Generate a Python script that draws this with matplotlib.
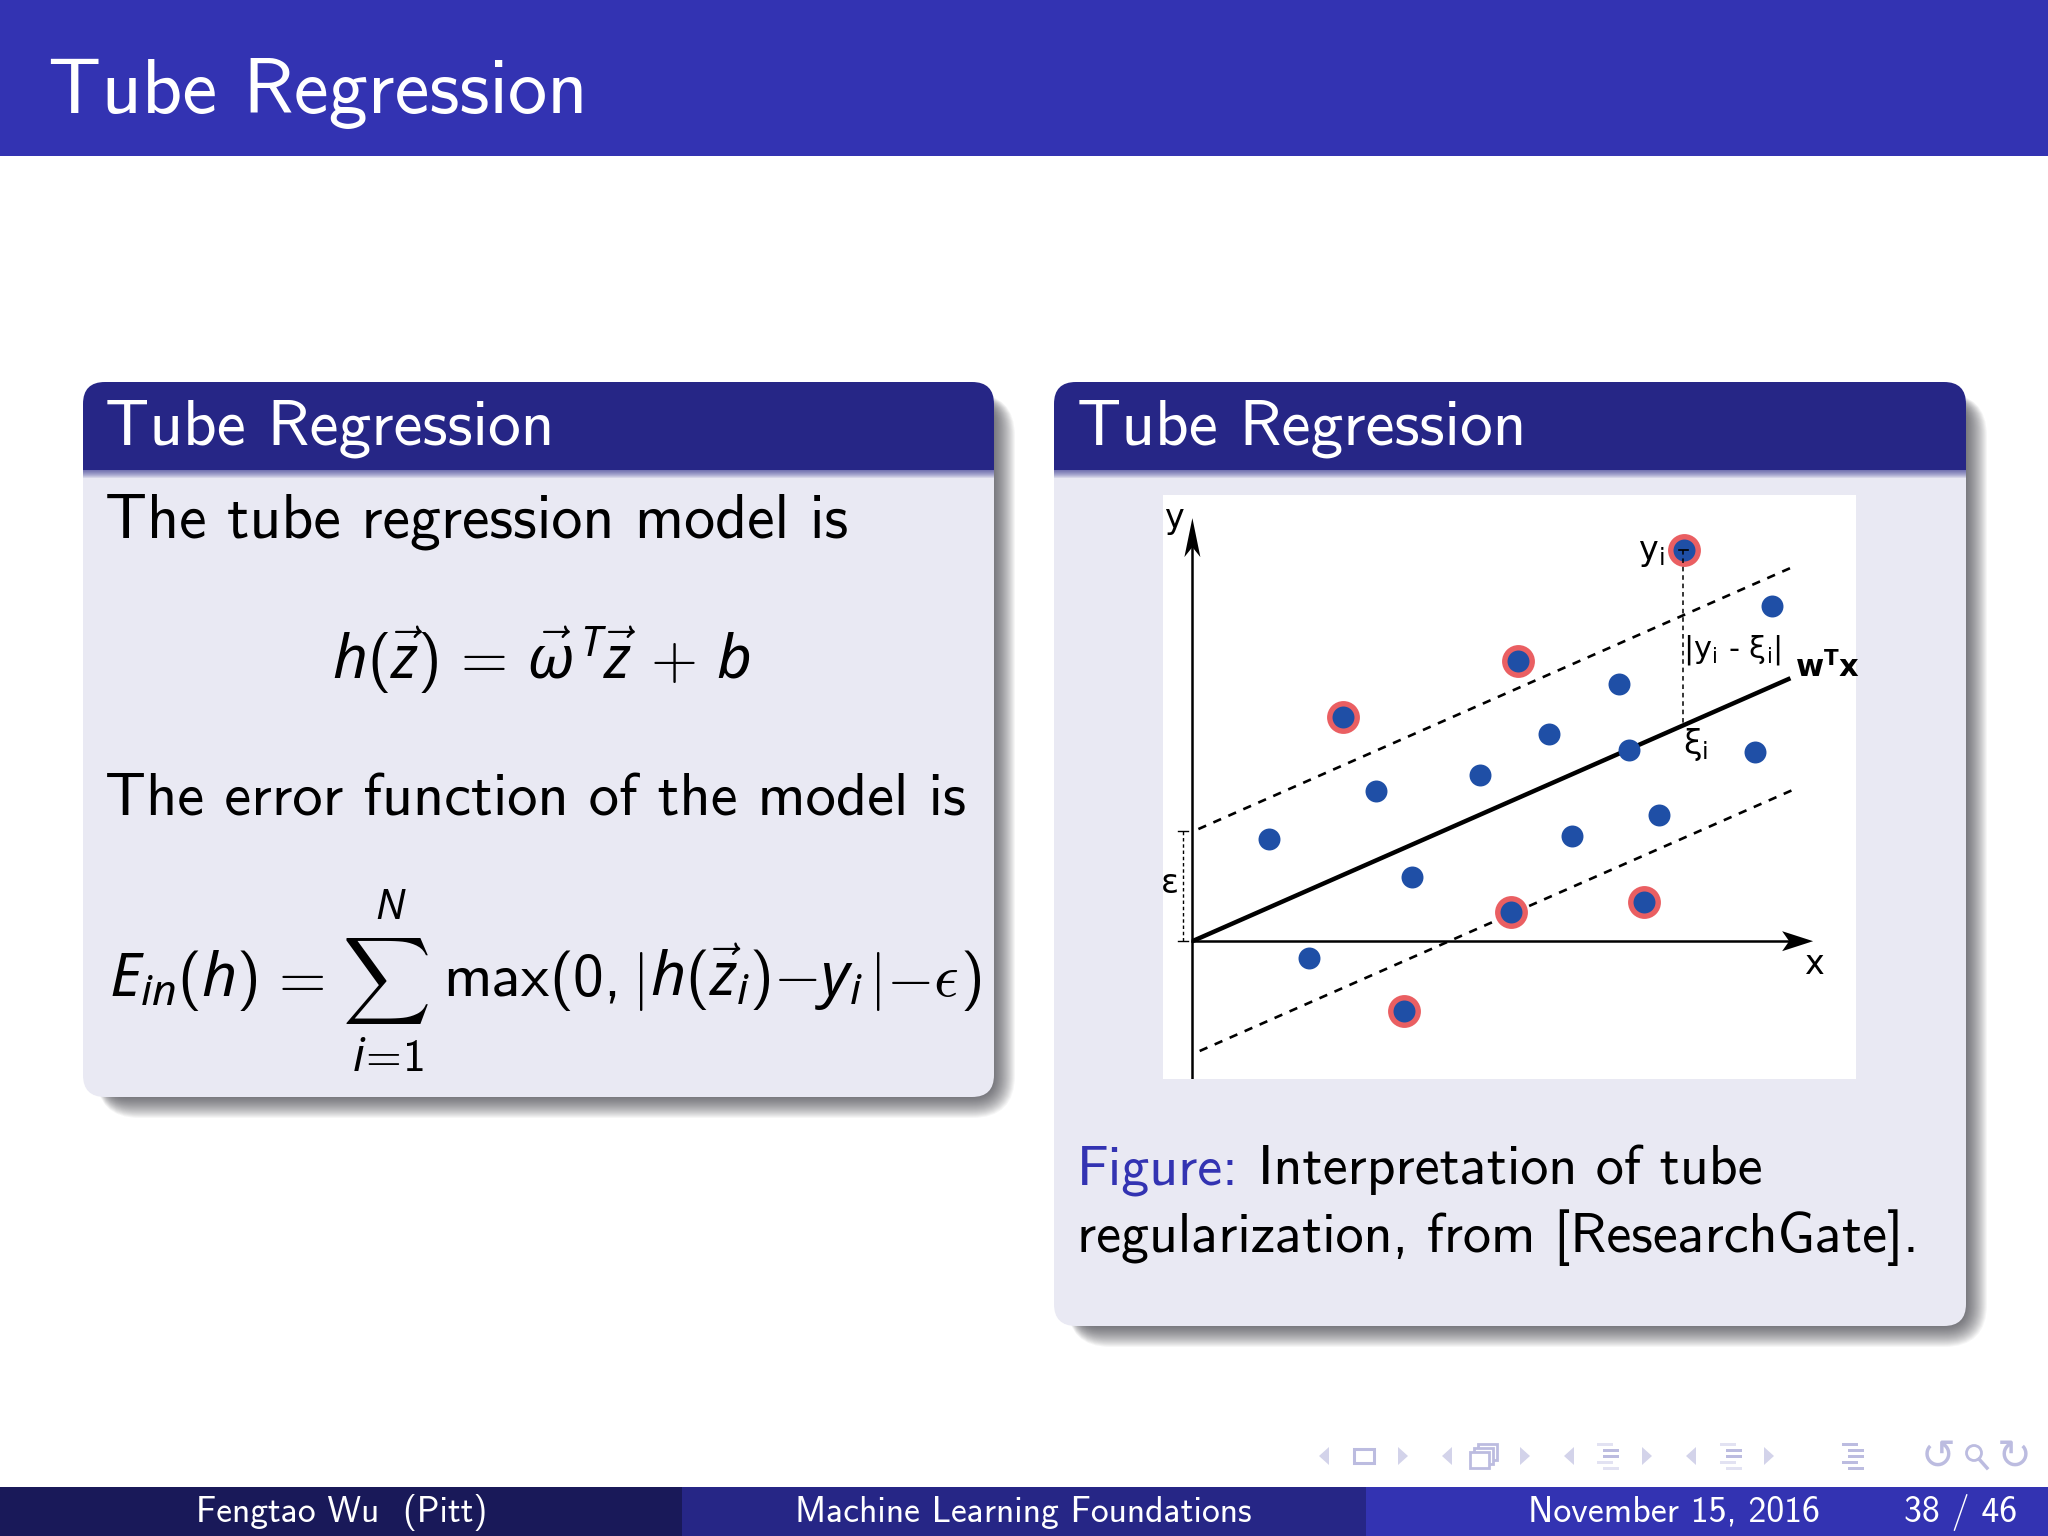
#
# Beamer slide "Tube Regression" with the epsilon-tube figure
#
import numpy as np
import matplotlib
matplotlib.use('Agg')
import matplotlib.pyplot as plt
from matplotlib.patches import Rectangle, FancyBboxPatch, Polygon, Circle

plt.rcParams['mathtext.fontset'] = 'custom'
plt.rcParams['mathtext.rm'] = 'cmss10'
plt.rcParams['mathtext.it'] = 'Noto Sans:italic:light'
plt.rcParams['mathtext.bf'] = 'DejaVu Sans:bold'
plt.rcParams['mathtext.fallback'] = 'cm'
plt.rcParams['axes.unicode_minus'] = False

W, H = 2048, 1536
SANS = 'cmss10'

#############################################################
# colours
HEAD = '#3333b2'
BLOCK_HEAD = '#262686'
FOOT_DARK = '#191959'
BODY = '#e9e9f3'
NAV = '#d3d3ea'
NAV_DARK = '#bcbce0'
DOT = '#1f4fa6'
RING = '#ea5f62'

# points of the figure, pixels from where the axes cross
inside_x = [76.7, 184.1, 287.9, 356.7, 427.0, 436.6, 562.9, 579.9, 219.9, 380.2, 466.5, 116.6]
inside_y = [102.6, 150.4, 165.7, 206.7, 257.2, 191.3, 189.4, 334.9, 64.3, 104.9, 125.9, -17.2]
outlier_x = [150.6, 326.0, 491.7, 319.1, 452.3, 212.1]
outlier_y = [224.3, 280.1, 391.1, 28.7, 39.0, -69.7]
fit_x = [0, 598.3]
fit_y = [0, 262.9]
upper_x = [6.0, 598.3]
upper_y = [112.1, 373.1]
lower_x = [7.3, 600.6]
lower_y = [-109.8, 151.2]

#############################################################
fig = plt.figure(figsize=(20.48, 15.36), dpi=100, facecolor='white')
bg = fig.add_axes([0, 0, 1, 1])
bg.set_xlim(0, W)
bg.set_ylim(H, 0)
bg.axis('off')

def put(x, y, s, size, color='black', ha='left', va='baseline', **kw):
    kw.setdefault('family', SANS)
    kw.setdefault('zorder', 5)
    return bg.text(x, y, s, fontsize=size, color=color, ha=ha, va=va, **kw)

def block(x0, y0, x1, y1, head_y):
    # soft drop shadow, darkest next to the block
    for e in range(21, -1, -1):
        bg.add_patch(FancyBboxPatch((x0+22-e*0.4, y0+20-e*0.4), x1-x0-22+e*1.4, y1-y0-20+e*1.4,
                boxstyle='round,pad=0,rounding_size=%d' % (22+e), fc='#30303a', ec='none',
                alpha=0.045, zorder=1))
    bg.add_patch(FancyBboxPatch((x0, y0), x1-x0, y1-y0,
            boxstyle='round,pad=0,rounding_size=22', fc=BODY, ec='none', zorder=2))
    title = FancyBboxPatch((x0, y0), x1-x0, y1-y0,
            boxstyle='round,pad=0,rounding_size=22', fc=BLOCK_HEAD, ec='none', zorder=3)
    bg.add_patch(title)
    title.set_clip_path(Rectangle((x0, y0), x1-x0, head_y-y0, transform=bg.transData))
    # fade under the block title
    for k in range(8):
        bg.add_patch(Rectangle((x0, head_y), x1-x0, 8-k, fc=BLOCK_HEAD, ec='none',
                alpha=0.10, zorder=3))

#############################################################
# header and footer
bg.add_patch(Rectangle((0, 0), W, 156, fc=HEAD, ec='none'))
put(48, 113, 'Tube Regression', 56.4, 'white')

bg.add_patch(Rectangle((0, 1487), 682, 49, fc=FOOT_DARK, ec='none'))
bg.add_patch(Rectangle((682, 1487), 684, 49, fc=BLOCK_HEAD, ec='none'))
bg.add_patch(Rectangle((1366, 1487), 682, 49, fc=HEAD, ec='none'))
put(196, 1522, 'Fengtao Wu  (Pitt)', 25.6, 'white')
put(795, 1522, 'Machine Learning Foundations', 25.6, 'white')
put(1528, 1522, 'November 15, 2016', 25.8, 'white')
put(1904, 1522, '38 / 46', 25.8, 'white')

# navigation symbols
for tx, d in [(1324, -1), (1403, 1), (1447, -1), (1525, 1), (1569, -1), (1647, 1), (1691, -1), (1769, 1)]:
    bg.add_patch(Polygon([(tx+5*d, 1456), (tx-5*d, 1447), (tx-5*d, 1465)], fc=NAV, ec='none'))
bg.add_patch(Rectangle((1354, 1449), 20, 14, fc='none', ec=NAV_DARK, lw=2.2))
for off in (8, 4, 0):
    bg.add_patch(Rectangle((1470+off, 1452-off), 19, 16, fc='white', ec=NAV_DARK, lw=2))
for nx in (1608, 1731, 1853):
    for ny, half, shift in zip((1444, 1450, 1456, 1462, 1468), (8, 8, 8, 8, 8), (-3, 3, 3, -3, 3)):
        col = NAV_DARK if ny in (1450, 1456) or nx == 1853 else '#e2e2f2'
        bg.add_patch(Rectangle((nx-half+shift, ny-1.5), 2*half, 3, fc=col, ec='none'))
put(1938, 1469, '\u21ba', 30, NAV_DARK, family='DejaVu Sans', ha='center', zorder=2)
put(2014, 1469, '\u21bb', 30, NAV_DARK, family='DejaVu Sans', ha='center', zorder=2)
# magnifier has no glyph in the installed fonts
bg.add_patch(Circle((1974, 1453), 7.5, fc='none', ec=NAV_DARK, lw=2))
bg.plot([1979, 1987], [1459, 1468], color=NAV_DARK, lw=2.5)

#############################################################
# left block
block(83, 382, 994, 1097, 470)
put(105, 445, 'Tube Regression', 47, 'white')
put(105, 537, 'The tube regression model is', 44.6)
put(541, 679, r'$h(\vec{z})\,=\,\vec{\omega}^{\,T}\vec{z}\,+\,b$', 43.6, ha='center')
put(105, 815, 'The error function of the model is', 43.6)

# second formula goes piece by piece, the bars need the cm font
put(109, 996, r'$E_{in}(h)$', 44)
put(268, 996, r'$=$', 44)
put(385, 1001, r'$\sum$', 44, ha='center', math_fontfamily='cm')
put(391, 919, r'$N$', 30, ha='center')
put(388, 1071, r'$i\!=\!1$', 33, ha='center')
put(443, 996, 'max', 44)
put(549, 996, r'$(0,$', 44)
put(638, 996, r'$|$', 42, ha='center', math_fontfamily='cm')
put(650, 996, r'$h(\vec{z}_i){-}y_i$', 44)
put(875, 996, r'$|$', 42, ha='center', math_fontfamily='cm')
put(886, 996, r'${-}$', 44)
put(933, 996, r'$\epsilon$', 44, math_fontfamily='cm')
put(960, 996, r'$)$', 44)

#############################################################
# right block
block(1054, 382, 1966, 1326, 470)
put(1077, 445, 'Tube Regression', 47, 'white')
put(1077, 1184, 'Figure:', 40.4, HEAD)
put(1258, 1184, 'Interpretation of tube', 40.4)
put(1077, 1252, 'regularization, from [ResearchGate].', 40.4)

#############################################################
# the figure
ax = fig.add_axes([1163/W, 1-1079/H, (1856-1163)/W, (1079-494.5)/H], zorder=5)
ax.set_xlim(-29.4, 663.9)
ax.set_ylim(-137.8, 446.6)
ax.axis('off')
ax.add_patch(Rectangle((0, 0), 1, 1, transform=ax.transAxes, fc='white', ec='none', zorder=0))

ax.plot(fit_x, fit_y, color='black', lw=3.2, zorder=2, solid_capstyle='butt')
ax.plot(upper_x, upper_y, color='black', lw=1.9, ls=(0, (3.2, 3.0)), zorder=2)
ax.plot(lower_x, lower_y, color='black', lw=1.9, ls=(0, (3.2, 3.0)), zorder=2)

# axes arrows
ax.plot([0, 0], [-137, 400], color='black', lw=1.8, zorder=2)
ax.plot([0, 600], [0, 0], color='black', lw=1.8, zorder=2)
ax.add_patch(Polygon([(0, 423), (-8, 384), (0, 394), (8, 384)], fc='black', ec='none', zorder=3))
ax.add_patch(Polygon([(621, 0), (590, 10), (597, 0), (590, -10)], fc='black', ec='none', zorder=3))

# epsilon bracket
ax.plot([-9.2, -9.2], [0, 109.8], color='black', lw=1.0, ls=(0, (2.5, 2)), zorder=2)
ax.plot([-14, -4], [109.8, 109.8], color='black', lw=1.0, zorder=2)
ax.plot([-14, -4], [0, 0], color='black', lw=1.0, zorder=2)

# y_i to the fitted line
ax.plot([491.3, 491.3], [391, 216.2], color='black', lw=1.1, ls=(0, (3, 2.5)), zorder=4)

ax.scatter(outlier_x, outlier_y, s=560, color=RING, linewidths=0, zorder=3)
ax.scatter(outlier_x, outlier_y, s=250, color=DOT, linewidths=0, zorder=3.5)
ax.scatter(inside_x, inside_y, s=250, color=DOT, linewidths=0, zorder=3)
ax.plot([487, 496], [391, 391], color='black', lw=1.2, zorder=4)

FIG_FONT = dict(family='DejaVu Sans', ha='center', va='center')
ax.text(-18.4, 422.9, 'y', fontsize=24, **FIG_FONT)
ax.text(459.5, 388.4, r'y$_{\mathregular{i}}$', fontsize=24, **FIG_FONT)
ax.text(540, 290.9, '|y$_{\\mathregular{i}}$ - \u03be$_{\\mathregular{i}}$|', fontsize=22, **FIG_FONT)
ax.text(635, 273.6, 'w$^{\\mathregular{T}}$x', fontsize=22, weight='bold', **FIG_FONT)
ax.text(503, 197, '\u03be$_{\\mathregular{i}}$', fontsize=24, **FIG_FONT)
ax.text(-23, 57.4, '\u03b5', fontsize=24, **FIG_FONT)
ax.text(622, -23, 'x', fontsize=24, **FIG_FONT)

fig.savefig('out.png', dpi=100, facecolor='white')
